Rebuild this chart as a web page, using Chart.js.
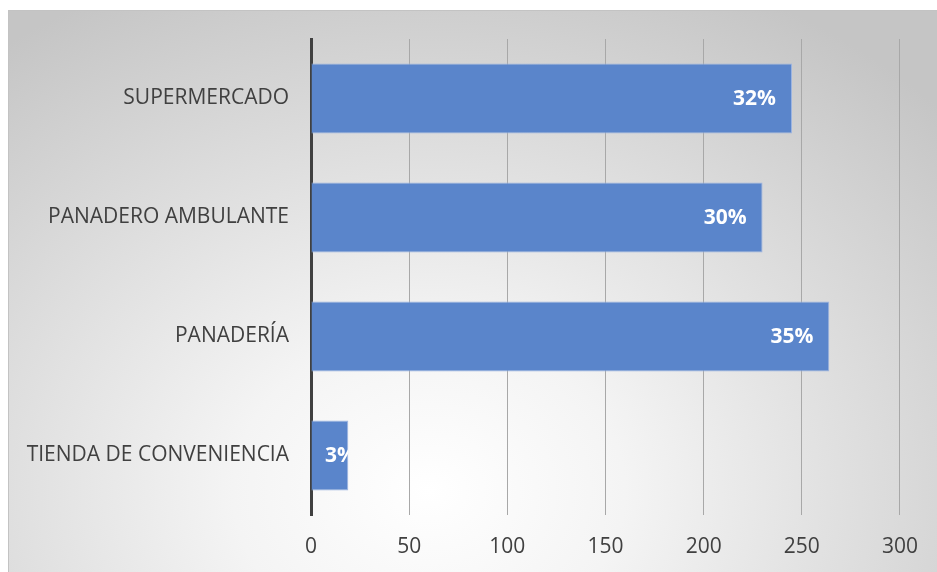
<!DOCTYPE html>
<html lang="es">
<head>
<meta charset="utf-8">
<title>Lugar de compra del pan</title>
<script src="https://cdn.jsdelivr.net/npm/chart.js@4/dist/chart.umd.min.js"></script>
<style>
    html, body { margin: 0; padding: 0; background: #fff; overflow: hidden; }
    #marco {
        position: absolute; left: 8px; top: 10px; width: 960px; height: 600px;
        border: 1px solid #c3c3c3;
        background: radial-gradient(ellipse 700px 560px at 420px 480px, #ffffff 0%, #f4f4f4 28%, #c5c5c5 100%);
    }
    #grafico { position: absolute; left: 0; top: 0; }
</style>
</head>
<body>
<div id="marco"></div>
<canvas id="grafico" width="937" height="572"></canvas>
<script>
// --- Datos ---
const categorias = ['SUPERMERCADO', 'PANADERO AMBULANTE', 'PANADERÍA', 'TIENDA DE CONVENIENCIA'];
const cantidades = [245, 230, 264, 19];
const ticksX = [0, 50, 100, 150, 200, 250, 300];

const total = cantidades.reduce((a, b) => a + b, 0);
const porcentajes = cantidades.map(v => Math.round(v / total * 100) + '%');

// Plugin sencillo para escribir el porcentaje dentro de cada barra, al final
const etiquetasBarras = {
    id: 'etiquetasBarras',
    afterDatasetsDraw(chart) {
        const { ctx, chartArea } = chart;
        const meta = chart.getDatasetMeta(0);
        meta.data.forEach((bar, i) => {
            ctx.save();
            // el texto se corta donde termina la barra
            ctx.beginPath();
            ctx.rect(chartArea.left, bar.y - bar.height / 2, bar.x - chartArea.left, bar.height);
            ctx.clip();
            ctx.fillStyle = '#ffffff';
            ctx.font = 'bold 21px "Open Sans"';
            ctx.textBaseline = 'middle';
            const w = ctx.measureText(porcentajes[i]).width;
            // si la barra es corta, el texto empieza cerca del eje
            let x = bar.x - 16;
            let align = 'right';
            if (x - w < chartArea.left + 10) { x = chartArea.left + 14; align = 'left'; }
            ctx.textAlign = align;
            ctx.fillText(porcentajes[i], x, bar.y + 1);
            ctx.restore();
        });
    }
};

new Chart(document.getElementById('grafico'), {
    type: 'bar',
    data: {
        labels: categorias,
        datasets: [{
            data: cantidades,
            backgroundColor: '#5a85cb',
            borderColor: '#9db4e0',
            borderWidth: 1,
            borderSkipped: 'start',
            barPercentage: 1,
            categoryPercentage: 0.59
        }]
    },
    options: {
        indexAxis: 'y',
        responsive: false,
        animation: false,
        layout: { padding: { top: 39, right: 34, left: 0, bottom: 0 } },
        plugins: {
            legend: { display: false },
            tooltip: { enabled: false }
        },
        scales: {
            x: {
                min: 0,
                max: 300,
                afterBuildTicks: s => { s.ticks = ticksX.map(v => ({ value: v })); },
                afterFit: s => { s.height = 57; },
                grid: {
                    color: '#a8a8a8',
                    lineWidth: 1,
                    drawTicks: false
                },
                border: { display: false },
                ticks: {
                    color: '#404040',
                    font: { family: 'Open Sans', size: 21 },
                    padding: 19
                }
            },
            y: {
                afterFit: s => { s.width = 311; },
                grid: { display: false, drawTicks: false },
                border: { display: true, color: '#404040', width: 3 },
                ticks: {
                    color: '#404040',
                    font: { family: 'Open Sans', size: 21 },
                    padding: 22
                }
            }
        }
    },
    plugins: [etiquetasBarras]
});
</script>
</body>
</html>
